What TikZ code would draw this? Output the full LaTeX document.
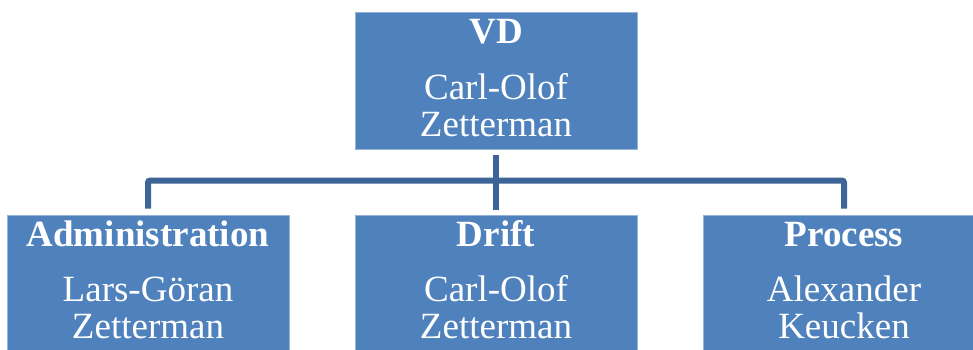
\documentclass[tikz,border=0pt]{standalone}
\usepackage{fontspec}
\setmainfont{Liberation Serif}
\definecolor{boxfill}{RGB}{79,129,189}
\definecolor{boxedge}{RGB}{150,180,218}
\definecolor{conncol}{RGB}{60,100,150}
\begin{document}
\begin{tikzpicture}[x=1pt,y=1pt,
  orgbox/.style={rectangle, fill=boxfill, draw=boxedge, line width=0.8pt,
    minimum width=282pt, minimum height=137pt, inner sep=0pt},
  ttl/.style={anchor=base, text=white, inner sep=0pt,
    font=\fontsize{37}{37.5}\selectfont\bfseries},
  nm/.style={anchor=base, text=white, inner sep=0pt, align=center,
    font=\fontsize{37}{37.5}\selectfont},
  conn/.style={draw=conncol, line width=6pt, rounded corners=2pt}]
\useasboundingbox (0,0) rectangle (973,349);
\begin{scope}
\clip (0,0) rectangle (973,349);
\node[orgbox] (vd) at (496,268.5) {};
\node[orgbox] (adm) at (148,65.5) {};
\node[orgbox] (drift) at (496,65.5) {};
\node[orgbox] (proc) at (844,65.5) {};
\end{scope}
\draw[conn, shorten <=6pt, shorten >=5pt] (vd.south) -- (drift.north);
\draw[conn, shorten <=6pt, shorten >=6pt] (adm.north) -- ++(0,34) -| (proc.north);
\node[ttl] (vdt) at ([yshift=-31.5pt]vd.north) {VD};
\node[nm] (vdn) at ([yshift=-125pt]vd.north) {Carl-Olof\\Zetterman};
\node[ttl] (admt) at ([yshift=-31.5pt]adm.north) {Administration};
\node[nm] (admn) at ([yshift=-124pt]adm.north) {Lars-Göran\\Zetterman};
\node[ttl] (driftt) at ([yshift=-31.5pt]drift.north) {Drift};
\node[nm] (driftn) at ([yshift=-124pt]drift.north) {Carl-Olof\\Zetterman};
\node[ttl] (proct) at ([yshift=-31.5pt]proc.north) {Process};
\node[nm] (procn) at ([yshift=-124pt]proc.north) {Alexander\\Keucken};
\end{tikzpicture}
\end{document}
